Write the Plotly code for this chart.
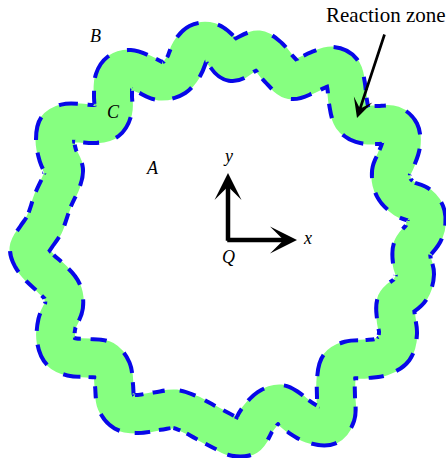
import plotly.graph_objects as go

# Centre-line of the wrinkled reaction zone
# (pixels relative to the origin Q, x to the right, y upwards), clockwise.
front_x = [-199, -192, -184, -175, -166, -164, -170, -173, -171, -162, -148, -133, -121,
           -115, -115, -114, -109, -98, -82, -68, -53, -44, -38, -30, -18, -7, 4, 17,
           30, 41, 51, 64, 77, 90, 104, 114, 118, 120, 124, 134, 150, 164, 172, 173,
           168, 163, 166, 177, 191, 198, 196, 184, 184, 187, 182, 168, 168, 170, 166,
           153, 138, 122, 111, 108, 108, 108, 100, 84, 70, 60, 52, 40, 29, 19, 7, -4,
           -23, -38, -53, -70, -90, -104, -112, -114, -116, -124, -140, -156, -167,
           -172, -171, -164, -166, -176, -188, -196]
front_y = [-9, 3, 15, 40, 60, 70, 84, 100, 112, 117, 117, 116, 119,
           130, 145, 160, 168, 171, 165, 159, 163, 174, 188, 197, 198, 190, 178, 185,
           190, 183, 171, 160, 164, 170, 174, 169, 155, 138, 123, 116, 115, 115, 108, 95,
           80, 68, 52, 41, 35, 25, 8, -9, -22, -34, -50, -63, -78, -93, -109,
           -117, -119, -120, -126, -140, -158, -175, -186, -184, -176, -168, -164, -168, -180, -196, -197, -192,
           -182, -174, -169, -171, -174, -172, -162, -145, -130, -120, -118, -117, -112,
           -100, -83, -66, -51, -39, -28, -18]

# Region labels
label_text = ["<i>B</i>", "<i>C</i>", "<i>A</i>", "<i>y</i>", "<i>x</i>", "<i>Q</i>"]
label_x = [-133, -115, -76, 0, 79, 0]
label_y = [204, 128, 72, 84, 2, -17]

# Pointer to the reaction zone
note_text = "Reaction zone"
note_x, note_y = 158, 225
note_tail = (157, 207)
note_head = (129, 122)

# Coordinate axes at Q
axis_tails = [(0, -2.25), (-2.25, 0)]
axis_heads = [(0, 67), (69, 0)]

GREEN = "#86FF80"
BLUE = "#0808E8"

# close the loop
cx = front_x + front_x[:1]
cy = front_y + front_y[:1]

fig = go.Figure()
fig.add_trace(go.Scatter(x=cx, y=cy, mode="lines",
                         line=dict(color=GREEN, width=39, shape="spline", smoothing=1),
                         hoverinfo="skip", showlegend=False))
fig.add_trace(go.Scatter(x=cx, y=cy, mode="lines",
                         line=dict(color=BLUE, width=42, shape="spline", smoothing=1,
                                   dash="12px,9px"),
                         hoverinfo="skip", showlegend=False))
fig.add_trace(go.Scatter(x=cx, y=cy, mode="lines",
                         line=dict(color=GREEN, width=34, shape="spline", smoothing=1),
                         hoverinfo="skip", showlegend=False))

annotations = []
for t, x, y in zip(label_text, label_x, label_y):
    annotations.append(dict(x=x, y=y, xref="x", yref="y", text=t, showarrow=False,
                            font=dict(family="Liberation Serif", size=18, color="black")))
annotations.append(dict(x=note_x, y=note_y, xref="x", yref="y", text=note_text,
                        showarrow=False,
                        font=dict(family="Liberation Serif", size=21, color="black")))
annotations.append(dict(x=note_head[0], y=note_head[1], ax=note_tail[0], ay=note_tail[1],
                        xref="x", yref="y", axref="x", ayref="y", text="",
                        showarrow=True, arrowhead=3, arrowsize=1.2, arrowwidth=2.7,
                        arrowcolor="black", standoff=0, startstandoff=0))
for (tx, ty), (hx, hy) in zip(axis_tails, axis_heads):
    annotations.append(dict(x=hx, y=hy, ax=tx, ay=ty,
                            xref="x", yref="y", axref="x", ayref="y", text="",
                            showarrow=True, arrowhead=3, arrowsize=1.0, arrowwidth=4.5,
                            arrowcolor="black", standoff=0, startstandoff=0))

fig.update_layout(
    width=446, height=458,
    margin=dict(l=0, r=0, t=0, b=0),
    paper_bgcolor="white", plot_bgcolor="white",
    xaxis=dict(range=[-228, 218], visible=False, fixedrange=True),
    yaxis=dict(range=[-218, 240], visible=False, fixedrange=True),
    annotations=annotations,
    showlegend=False,
)

fig.write_html("out.html", config={"displayModeBar": False},
               post_script="document.body.style.margin='0';document.body.style.overflow='hidden';")
